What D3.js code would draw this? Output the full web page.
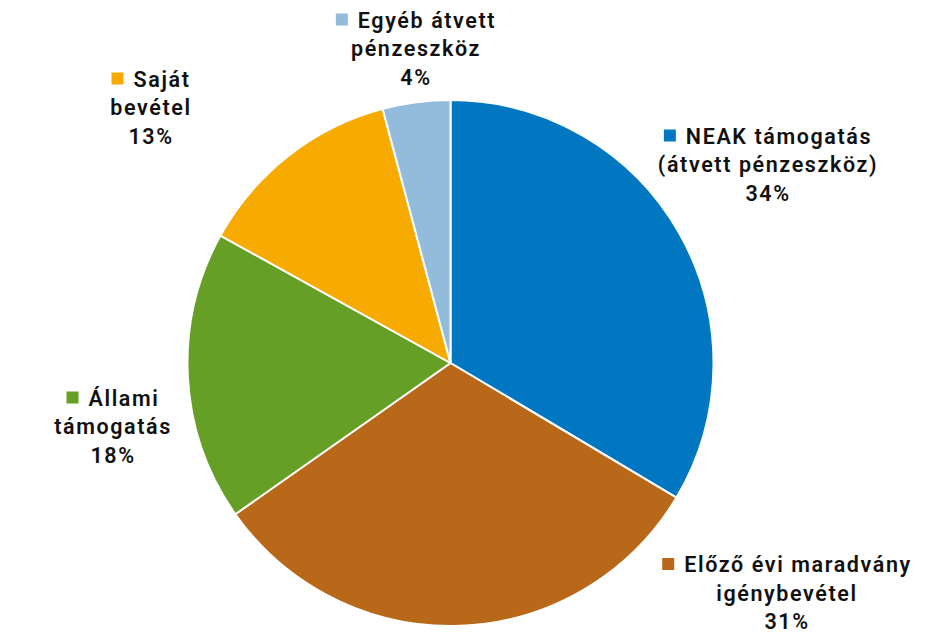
<!DOCTYPE html>
<html>
<head>
<meta charset="utf-8">
<script src="https://cdn.jsdelivr.net/npm/d3@7"></script>
<style>
  html, body { margin: 0; padding: 0; background: #fff; }
  svg { display: block; }
  text { font-family: Roboto, "Noto Sans", sans-serif; font-weight: 600; font-size: 21.5px; fill: #111; letter-spacing: 1.6px; }
</style>
</head>
<body>
<svg id="chart" width="933" height="634"></svg>
<script>
// Data
const categories = ["NEAK támogatás (átvett pénzeszköz)", "Előző évi maradvány igénybevétel", "Állami támogatás", "Saját bevétel", "Egyéb átvett pénzeszköz"];
const values = [33.55, 31.7, 17.8, 12.8, 4.15];
const percentLabels = ["34%", "31%", "18%", "13%", "4%"];
const labelLines = [
  ["NEAK támogatás", "(átvett pénzeszköz)"],
  ["Előző évi maradvány", "igénybevétel"],
  ["Állami", "támogatás"],
  ["Saját", "bevétel"],
  ["Egyéb átvett", "pénzeszköz"]
];
const colors = ["#0077c0", "#b86818", "#669f25", "#f7aa00", "#92bbdc"];

// Layout (not data)
const W = 933, H = 634;
const cx = 450.5, cy = 363, R = 263;
const labelPos = [
  {x: 768, y: 143.5},
  {x: 787, y: 572},
  {x: 113, y: 405.5},
  {x: 151, y: 86.5},
  {x: 416, y: 27.5}
];
const lineH = 28.7;

const svg = d3.select("#chart");
const g = svg.append("g").attr("transform", `translate(${cx},${cy})`);

const pie = d3.pie().sort(null).value(d => d.v);
const arcs = pie(values.map((v, i) => ({v, i})));
const arc = d3.arc().innerRadius(0).outerRadius(R);

g.selectAll("path").data(arcs).join("path")
  .attr("d", arc)
  .attr("fill", d => colors[d.data.i])
  .attr("stroke", "#fff")
  .attr("stroke-width", 2)
  .attr("stroke-linejoin", "round");

// Labels
const sq = 12, gap = 10;
labelLines.forEach((lines, i) => {
  const p = labelPos[i];
  const lg = svg.append("g");
  const all = lines.concat([percentLabels[i]]);
  all.forEach((t, j) => {
    const tx = lg.append("text")
      .attr("y", p.y + j * lineH)
      .text(t);
    const w = tx.node().getComputedTextLength();
    if (j === 0) {
      const total = sq + gap + w;
      const x0 = p.x - total / 2;
      lg.append("rect")
        .attr("x", x0).attr("y", p.y - 14)
        .attr("width", sq).attr("height", sq)
        .attr("fill", colors[i]);
      tx.attr("x", x0 + sq + gap);
    } else {
      tx.attr("x", p.x).attr("text-anchor", "middle");
    }
  });
});
</script>
</body>
</html>
